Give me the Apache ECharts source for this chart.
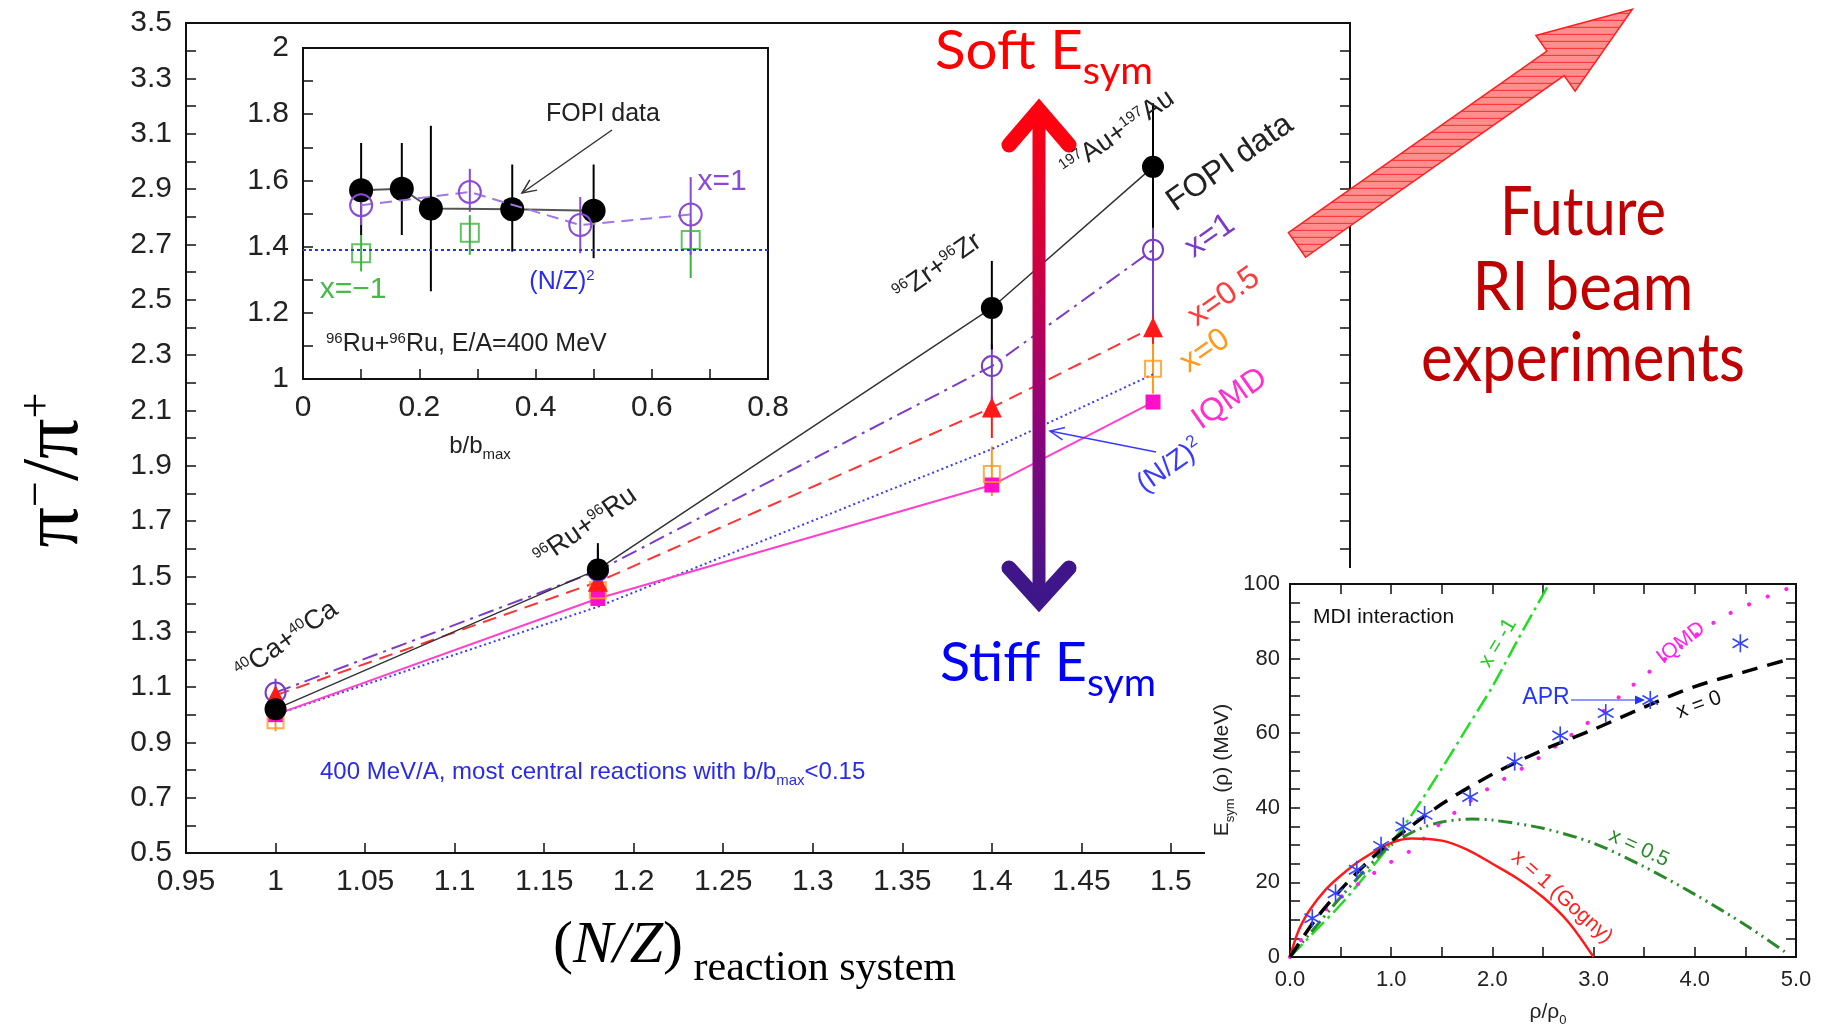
<!DOCTYPE html>
<html>
<head>
<meta charset="utf-8">
<script src="https://cdn.jsdelivr.net/npm/echarts@6/dist/echarts.min.js"></script>
<style>
html,body{margin:0;padding:0;background:#fff;}
#chart{width:1825px;height:1028px;}
</style>
</head>
<body>
<div id="chart"></div>
<script>
// ===== Main panel: pi-/pi+ ratio vs (N/Z) of the reaction system =====
const systemNZ   = [1.0, 1.18, 1.4, 1.49];
const fopiRatio  = [1.02, 1.525, 2.47, 2.98];
const fopiLow    = [0.99, 1.47, 2.32, 2.76];
const fopiHigh   = [1.05, 1.62, 2.64, 3.21];
const x1Ratio    = [1.08, 1.52, 2.26, 2.68];
const x1Low      = [1.04, 1.46, 2.12, 2.44];
const x1High     = [1.13, 1.60, 2.34, 2.87];
const x05Ratio   = [1.07, 1.48, 2.11, 2.40];
const x05Low     = [1.03, 1.43, 2.00, 2.34];
const x05High    = [1.10, 1.53, 2.15, 2.47];
const x0Ratio    = [0.98, 1.45, 1.87, 2.25];
const x0Low      = [0.94, 1.39, 1.79, 2.16];
const x0High     = [1.02, 1.50, 1.97, 2.36];
const iqmdRatio  = [1.00, 1.42, 1.83, 2.13];
const nz2Ratio   = [1.00, 1.39, 1.96, 2.23];
const mainX = {min: 0.95, max: 1.6, step: 0.05};
const mainY = {min: 0.5, max: 3.5, step: 0.2};

// ===== Inset 1: Ru+Ru ratio vs b/bmax =====
const bFopi      = [0.10, 0.17, 0.22, 0.36, 0.50];
const rFopi      = [1.570, 1.575, 1.515, 1.513, 1.508];
const rFopiLow   = [1.435, 1.435, 1.265, 1.385, 1.365];
const rFopiHigh  = [1.713, 1.713, 1.765, 1.648, 1.648];
const bX1        = [0.10, 0.287, 0.477, 0.667];
const rX1        = [1.525, 1.565, 1.465, 1.497];
const rX1Low     = [1.465, 1.505, 1.38, 1.375];
const rX1High    = [1.58, 1.635, 1.55, 1.61];
const bXm1       = [0.10, 0.287, 0.667];
const rXm1       = [1.38, 1.442, 1.42];
const rXm1Low    = [1.325, 1.375, 1.305];
const rXm1High   = [1.435, 1.495, 1.48];
const rNZ2Ru     = 1.39;

// ===== Inset 2: Esym(rho) =====
const rhoGogny  = [0, 0.05, 0.1, 0.2, 0.35, 0.5, 0.7, 1.0, 1.2, 1.5, 1.75, 2.0, 2.25, 2.5, 2.75, 3.0];
const esymGogny = [0, 4.5, 8, 12.8, 18, 21.8, 26, 30.6, 31.8, 31.2, 28.8, 25, 21, 16, 9.4, 0];
const rhoX0     = [0, 0.25, 0.5, 0.75, 1.0, 1.5, 2.0, 2.5, 3.0, 3.5, 4.0, 4.5, 4.95];
const esymX0    = [0, 10, 18, 25, 31, 41, 49, 55.5, 61, 67, 72.5, 76.5, 80];
const rhoX05    = [0, 0.25, 0.5, 0.75, 1.0, 1.25, 1.5, 1.8, 2.0, 2.5, 3.0, 3.5, 4.0, 4.5, 4.9];
const esymX05   = [0, 8, 16, 23.5, 30, 34, 36.2, 37, 36.7, 34.5, 30.5, 24.2, 16.8, 8.6, 1.2];
const rhoXm1    = [0, 0.25, 0.5, 0.75, 1.0, 1.25, 1.5, 1.75, 2.0, 2.25, 2.56];
const esymXm1   = [0, 7, 14, 22, 30.5, 40, 50.5, 61.5, 72.5, 85, 100];
const rhoIQMD   = [0, 0.25, 0.5, 0.75, 1.0, 1.2, 1.45, 1.94, 2.44, 3.1, 3.33, 4.23, 4.92];
const esymIQMD  = [0, 10, 16, 21, 25.5, 28.7, 35, 44.8, 53, 66, 71.6, 90.4, 98.8];
const rhoAPR    = [0.22, 0.45, 0.66, 0.9, 1.12, 1.33, 1.78, 2.22, 2.67, 3.12, 3.56, 4.45];
const esymAPR   = [10.4, 17.1, 23.4, 29.8, 35, 38.1, 42.9, 52.4, 59.4, 65.4, 68.9, 84.1];

const zip = (a, b) => a.map((v, i) => [v, b[i]]);
const zip3 = (a, b, c) => a.map((v, i) => [v, b[i], c[i]]);

const mctx = document.createElement('canvas').getContext('2d');
function rt(cx, cy, parts, o) {
  o = o || {};
  const fam = o.family || 'Liberation Sans';
  const F = parts[0][1];
  const z = o.z || 30;
  let w = 0;
  const ws = parts.map(p => {
    const st = (p[3] && p[3].fontStyle) || o.fontStyle || 'normal';
    mctx.font = st + ' ' + (o.fontWeight || 'normal') + ' ' + p[1] + 'px "' + fam + '"';
    const ww = mctx.measureText(p[0]).width; w += ww; return ww;
  });
  let x0 = o.align === 'left' ? 0 : (o.align === 'right' ? -w : -w / 2);
  const children = parts.map((p, i) => {
    const el = {type: 'text', x: x0, y: p[2] + 0.35 * (F - p[1]), z: z, silent: true,
      style: {text: p[0], fontSize: p[1], fontFamily: fam,
        fontStyle: (p[3] && p[3].fontStyle) || o.fontStyle || 'normal',
        fontWeight: o.fontWeight || 'normal',
        fill: (p[3] && p[3].fill) || o.fill || '#000', align: 'left', verticalAlign: 'middle'}};
    x0 += ws[i]; return el;
  });
  const sx = o.fitWidth ? o.fitWidth / w : 1;
  return {type: 'group', x: cx, y: cy, rotation: o.rot || 0, scaleX: sx, z: z, silent: true, children: children};
}
function arrow(x1, y1, x2, y2, color, w, hl, filled) {
  const a = Math.atan2(y2 - y1, x2 - x1);
  const hw = hl * 0.45;
  const bx = x2 - hl * Math.cos(a), by = y2 - hl * Math.sin(a);
  const p1 = [bx - hw * Math.sin(a), by + hw * Math.cos(a)], p2 = [bx + hw * Math.sin(a), by - hw * Math.cos(a)];
  const els = [{type: 'line', z: 30, silent: true, shape: {x1: x1, y1: y1, x2: filled ? bx : x2, y2: filled ? by : y2}, style: {stroke: color, lineWidth: w}}];
  if (filled) els.push({type: 'polygon', z: 30, silent: true, shape: {points: [[x2, y2], p1, p2]}, style: {fill: color}});
  else els.push({type: 'polyline', z: 30, silent: true, shape: {points: [p1, [x2, y2], p2]}, style: {stroke: color, lineWidth: w, fill: null}});
  return els;
}
function errBar(color, width) {
  return function (params, api) {
    const x = api.value(0), lo = api.value(1), hi = api.value(2);
    const a = api.coord([x, lo]), b = api.coord([x, hi]);
    return {type: 'line', shape: {x1: a[0], y1: a[1], x2: b[0], y2: b[1]}, style: {stroke: color, lineWidth: width}};
  };
}
function asteriskItem(params, api) {
  const p = api.coord([api.value(0), api.value(1)]);
  const r = 9; const ch = [];
  for (let k = 0; k < 3; k++) {
    const ang = Math.PI / 2 + k * Math.PI / 3;
    ch.push({type: 'line', shape: {x1: p[0] - r * Math.cos(ang), y1: p[1] - r * Math.sin(ang), x2: p[0] + r * Math.cos(ang), y2: p[1] + r * Math.sin(ang)}, style: {stroke: '#3344ff', lineWidth: 1.6}});
  }
  return {type: 'group', children: ch};
}

const TXT = '#222';
const FAM = 'Liberation Sans';
function tickAxis(extra) {
  return Object.assign({
    type: 'value', splitLine: {show: false},
    axisLine: {show: true, onZero: false, lineStyle: {color: '#111', width: 2}},
    axisTick: {show: true, inside: true, length: 10, lineStyle: {color: '#111', width: 1.5}},
    minorTick: {show: true, splitNumber: 2, length: 10, lineStyle: {color: '#111', width: 1.5}},
    axisLabel: {show: true, color: TXT, fontFamily: FAM, fontSize: 30, margin: 14}
  }, extra);
}

// hatch pattern for the big arrow
const pc = document.createElement('canvas'); pc.width = 12; pc.height = 7;
const pg = pc.getContext('2d');
pg.fillStyle = '#ff8f8f'; pg.fillRect(0, 0, 12, 7);
pg.strokeStyle = '#ff3a3a'; pg.lineWidth = 1.2; pg.beginPath(); pg.moveTo(0, 6.4); pg.lineTo(12, 6.4); pg.stroke();

const PURPLE = '#7a3cc8', RED = '#ff1a1a', ORANGE = '#ff9a1a', MAGENTA = '#ff10c8', BLUE = '#3a3aff';
const IPURPLE = '#8a4ad8', IGREEN = '#3cb43c';

const graphics = [];
// white backdrop of the lower right inset
graphics.push({type: 'rect', z: 5, silent: true, shape: {x: 1205, y: 568, width: 620, height: 460}, style: {fill: '#fff'}});
// axis titles of main panel
graphics.push(rt(56, 470, [['π', 80, 0], ['−', 46, -30], ['/π', 80, 0], ['+', 46, -30]], {family: 'Liberation Serif', rot: Math.PI / 2, fill: '#000'}));
graphics.push(rt(553, 946, [['(', 60, 0], ['N/Z', 60, 0, {fontStyle: 'italic'}], [')', 60, 0], [' reaction system', 42, 17]], {family: 'Liberation Serif', align: 'left', fill: '#000'}));
// main panel annotations
const R = 0.61;
graphics.push(rt(289, 644, [['40', 15, -10], ['Ca+', 27, 0], ['40', 15, -10], ['Ca', 27, 0]], {rot: R, fill: TXT}));
graphics.push(rt(588, 530, [['96', 15, -10], ['Ru+', 27, 0], ['96', 15, -10], ['Ru', 27, 0]], {rot: R, fill: TXT}));
graphics.push(rt(940, 271, [['96', 15, -10], ['Zr+', 27, 0], ['96', 15, -10], ['Zr', 27, 0]], {rot: R, fill: TXT}));
graphics.push(rt(1120, 137, [['197', 15, -10], ['Au+', 27, 0], ['197', 15, -10], ['Au', 27, 0]], {rot: R, fill: TXT}));
graphics.push(rt(1230, 163, [['FOPI data', 32, 0]], {rot: R, fill: TXT}));
graphics.push(rt(1210, 236, [['x=1', 32, 0]], {rot: R, fill: PURPLE}));
graphics.push(rt(1224, 297, [['x=0.5', 32, 0]], {rot: R, fill: '#ff3b3b'}));
graphics.push(rt(1205, 351, [['x=0', 32, 0]], {rot: R, fill: ORANGE}));
graphics.push(rt(1230, 399, [['IQMD', 32, 0]], {rot: R, fill: '#ff30d0'}));
graphics.push(rt(1170, 466, [['(N/Z)', 28, 0], ['2', 17, -11]], {rot: R, fill: BLUE}));
graphics.push.apply(graphics, arrow(1156, 452, 1050, 431, BLUE, 1.5, 14, false));
graphics.push(rt(320, 772, [['400 MeV/A, most central reactions with b/b', 24, 0], ['max', 15, 6], ['<0.15', 24, 0]], {align: 'left', fill: '#2a2aee'}));
// inset 1 annotations
graphics.push(rt(480, 446, [['b/b', 24, 0], ['max', 15, 6]], {fill: TXT}));
graphics.push(rt(603, 114, [['FOPI data', 25, 0]], {fill: TXT}));
graphics.push.apply(graphics, arrow(612, 130, 522, 193, '#333', 1.5, 14, false));
graphics.push(rt(326, 348, [['96', 15, -9], ['Ru+', 25, 0], ['96', 15, -9], ['Ru, E/A=400 MeV', 25, 0]], {align: 'left', fill: TXT}));
graphics.push(rt(722, 182, [['x=1', 30, 0]], {fill: IPURPLE}));
graphics.push(rt(353, 290, [['x=−1', 30, 0]], {fill: '#44bb44'}));
graphics.push(rt(562, 282, [['(N/Z)', 25, 0], ['2', 15, -10]], {fill: '#2a2aee'}));
// inset 2 annotations
graphics.push(rt(1313, 617, [['MDI interaction', 21, 0]], {align: 'left', fill: '#111', z: 12}));
graphics.push(rt(1498, 643, [['x = -1', 21, 0]], {rot: 1.03, fill: '#22cc22', z: 12}));
graphics.push(rt(1681, 643, [['IQMD', 21, 0]], {rot: 0.66, fill: '#ff22ee', z: 12}));
graphics.push(rt(1546, 698, [['APR', 23, 0]], {fill: '#2233ff', z: 12}));
graphics.push.apply(graphics, arrow(1571, 700, 1645, 700, '#2233ff', 1.2, 10, true).map(e => Object.assign(e, {z: 12})));
graphics.push(rt(1699, 705, [['x = 0', 21, 0]], {rot: 0.35, fill: '#111', z: 12}));
graphics.push(rt(1639, 848, [['x = 0.5', 21, 0]], {rot: -0.44, fill: '#2a8a2a', z: 12}));
graphics.push(rt(1562, 897, [['x = 1 (Gogny)', 21, 0]], {rot: -0.73, fill: '#ff2020', z: 12}));
graphics.push(rt(1222, 770, [['E', 21, 0], ['sym', 13, 6], [' (ρ) (MeV)', 21, 0]], {rot: Math.PI / 2, fill: TXT, z: 12}));
graphics.push(rt(1548, 1012, [['ρ/ρ', 21, 0], ['0', 13, 6]], {fill: TXT, z: 12}));
// double arrow (soft / stiff)
graphics.push({type: 'rect', z: 25, silent: true, shape: {x: 1032.5, y: 112, width: 13, height: 488},
  style: {fill: {type: 'linear', x: 0, y: 0, x2: 0, y2: 1, colorStops: [
    {offset: 0, color: '#ff0010'}, {offset: 0.3, color: '#d0003e'}, {offset: 0.6, color: '#980078'}, {offset: 1, color: '#3e168a'}]}}});
graphics.push({type: 'polyline', z: 25, silent: true, shape: {points: [[1009, 145], [1039, 110], [1069, 145]]}, style: {stroke: '#ff0010', lineWidth: 15, lineCap: 'round', lineJoin: 'miter', fill: null}});
graphics.push({type: 'polyline', z: 25, silent: true, shape: {points: [[1009, 568], [1039, 601], [1069, 568]]}, style: {stroke: '#3e168a', lineWidth: 15, lineCap: 'round', lineJoin: 'miter', fill: null}});
graphics.push(rt(935, 52, [['Soft E', 54, 0], ['sym', 38, 14]], {family: 'Lato', align: 'left', fill: '#ff0000', fitWidth: 218}));
graphics.push(rt(940, 664, [['Stiff E', 54, 0], ['sym', 38, 14]], {family: 'Lato', align: 'left', fill: '#0000ff', fitWidth: 216}));
// hatched arrow
graphics.push({type: 'polygon', z: 26, silent: true, shape: {points: [[1288.4, 232.7], [1546.9, 51.0], [1535.9, 35.5], [1632.4, 9.2], [1575.1, 91.1], [1564.1, 75.6], [1305.6, 257.3]]},
  style: {fill: {image: pc, repeat: 'repeat'}, stroke: '#ff2020', lineWidth: 1.5}});
graphics.push(rt(1583, 213, [['Future', 67, 0]], {family: 'Lato', fill: '#c00000', fitWidth: 166}));
graphics.push(rt(1583, 288, [['RI beam', 67, 0]], {family: 'Lato', fill: '#c00000', fitWidth: 221}));
graphics.push(rt(1583, 359, [['experiments', 67, 0]], {family: 'Lato', fill: '#c00000', fitWidth: 324}));

const hollow = (c) => ({color: 'rgba(0,0,0,0)', borderColor: c, borderWidth: 2});

const option = {
  animation: false,
  backgroundColor: '#fff',
  grid: [
    {left: 186, top: 23, width: 1164, height: 830, show: true, borderColor: '#111', borderWidth: 2, backgroundColor: 'rgba(0,0,0,0)', z: 0},
    {left: 303, top: 48, width: 465, height: 331, show: true, borderColor: '#111', borderWidth: 2, backgroundColor: '#fff', z: 0},
    {left: 1290, top: 584, width: 506, height: 373, show: true, borderColor: '#111', borderWidth: 2, backgroundColor: '#fff', z: 6}
  ],
  xAxis: [
    tickAxis({gridIndex: 0, min: mainX.min, max: mainX.max, interval: mainX.step, minorTick: {show: false}, z: 1}),
    tickAxis({gridIndex: 1, min: 0, max: 0.8, interval: 0.2, z: 1}),
    tickAxis({gridIndex: 2, min: 0, max: 5, interval: 1, z: 7, axisLabel: {color: TXT, fontFamily: FAM, fontSize: 22, margin: 12, formatter: v => v.toFixed(1)}}),
    tickAxis({gridIndex: 2, position: 'top', min: 0, max: 5, interval: 1, z: 7, axisLabel: {show: false}})
  ],
  yAxis: [
    tickAxis({gridIndex: 0, min: mainY.min, max: mainY.max, interval: mainY.step, z: 1}),
    tickAxis({gridIndex: 0, position: 'right', min: mainY.min, max: mainY.max, interval: mainY.step, z: 1, axisLabel: {show: false}}),
    tickAxis({gridIndex: 1, min: 1, max: 2, interval: 0.2, z: 1}),
    tickAxis({gridIndex: 2, min: 0, max: 100, interval: 20, z: 7, minorTick: {show: true, splitNumber: 4, length: 10, lineStyle: {color: '#111', width: 1.5}}, axisLabel: {color: TXT, fontFamily: FAM, fontSize: 22, margin: 10}}),
    tickAxis({gridIndex: 2, position: 'right', min: 0, max: 100, interval: 20, z: 7, minorTick: {show: true, splitNumber: 4, length: 10, lineStyle: {color: '#111', width: 1.5}}, axisLabel: {show: false}})
  ],
  graphic: {elements: graphics},
  series: [
    // ---- main panel ----
    {type: 'line', xAxisIndex: 0, yAxisIndex: 0, data: zip(systemNZ, nz2Ratio), symbol: 'none', lineStyle: {color: BLUE, width: 2, type: [2, 3]}, z: 2},
    {type: 'custom', xAxisIndex: 0, yAxisIndex: 0, renderItem: errBar(ORANGE, 2), data: zip3(systemNZ, x0Low, x0High), encode: {x: 0, y: [1, 2]}, z: 2, silent: true},
    {type: 'custom', xAxisIndex: 0, yAxisIndex: 0, renderItem: errBar(RED, 2), data: zip3(systemNZ, x05Low, x05High), encode: {x: 0, y: [1, 2]}, z: 2, silent: true},
    {type: 'custom', xAxisIndex: 0, yAxisIndex: 0, renderItem: errBar(PURPLE, 2), data: zip3(systemNZ, x1Low, x1High), encode: {x: 0, y: [1, 2]}, z: 2, silent: true},
    {type: 'custom', xAxisIndex: 0, yAxisIndex: 0, renderItem: errBar('#000', 2), data: zip3(systemNZ, fopiLow, fopiHigh), encode: {x: 0, y: [1, 2]}, z: 2, silent: true},
    {type: 'line', xAxisIndex: 0, yAxisIndex: 0, data: zip(systemNZ, iqmdRatio), symbol: 'rect', symbolSize: 15, itemStyle: {color: MAGENTA}, lineStyle: {color: '#ff40cc', width: 2}, z: 3},
    {type: 'scatter', xAxisIndex: 0, yAxisIndex: 0, data: zip(systemNZ, x0Ratio), symbol: 'rect', symbolSize: 16, itemStyle: hollow(ORANGE), z: 3},
    {type: 'line', xAxisIndex: 0, yAxisIndex: 0, data: zip(systemNZ, x05Ratio), symbol: 'triangle', symbolSize: 20, itemStyle: {color: RED}, lineStyle: {color: '#ff3333', width: 2, type: [14, 8]}, z: 3},
    {type: 'line', xAxisIndex: 0, yAxisIndex: 0, data: zip(systemNZ, x1Ratio), symbol: 'circle', symbolSize: 20, itemStyle: hollow(PURPLE), lineStyle: {color: PURPLE, width: 2, type: [16, 6, 3, 6]}, z: 3},
    {type: 'line', xAxisIndex: 0, yAxisIndex: 0, data: zip(systemNZ, fopiRatio), symbol: 'circle', symbolSize: 22, itemStyle: {color: '#000'}, lineStyle: {color: '#333', width: 1.5}, z: 4},
    // ---- inset 1 ----
    {type: 'custom', xAxisIndex: 1, yAxisIndex: 2, renderItem: errBar(IGREEN, 2), data: zip3(bXm1, rXm1Low, rXm1High), encode: {x: 0, y: [1, 2]}, z: 3, silent: true},
    {type: 'custom', xAxisIndex: 1, yAxisIndex: 2, renderItem: errBar('#000', 2), data: zip3(bFopi, rFopiLow, rFopiHigh), encode: {x: 0, y: [1, 2]}, z: 3, silent: true},
    {type: 'custom', xAxisIndex: 1, yAxisIndex: 2, renderItem: errBar(IPURPLE, 2), data: zip3(bX1, rX1Low, rX1High), encode: {x: 0, y: [1, 2]}, z: 3, silent: true},
    {type: 'scatter', xAxisIndex: 1, yAxisIndex: 2, data: zip(bXm1, rXm1), symbol: 'rect', symbolSize: 18, itemStyle: hollow(IGREEN), z: 4,
      markLine: {symbol: 'none', silent: true, label: {show: false}, lineStyle: {color: '#2233ff', type: [3, 3], width: 2}, data: [{yAxis: rNZ2Ru}]}},
    {type: 'line', xAxisIndex: 1, yAxisIndex: 2, data: zip(bFopi, rFopi), symbol: 'circle', symbolSize: 24, itemStyle: {color: '#000'}, lineStyle: {color: '#555', width: 2}, z: 4},
    {type: 'line', xAxisIndex: 1, yAxisIndex: 2, data: zip(bX1, rX1), symbol: 'circle', symbolSize: 22, itemStyle: hollow(IPURPLE), lineStyle: {color: '#a078e0', width: 2, type: [12, 7]}, z: 5},
    // ---- inset 2 ----
    {type: 'line', xAxisIndex: 2, yAxisIndex: 3, data: zip(rhoXm1, esymXm1), symbol: 'none', smooth: 0.3, lineStyle: {color: '#22dd22', width: 2.5, type: [18, 5, 3, 5]}, z: 8},
    {type: 'line', xAxisIndex: 2, yAxisIndex: 3, data: zip(rhoX05, esymX05), symbol: 'none', smooth: 0.3, lineStyle: {color: '#2a8a2a', width: 3, type: [14, 5, 2, 5, 2, 5]}, z: 8},
    {type: 'line', xAxisIndex: 2, yAxisIndex: 3, data: zip(rhoIQMD, esymIQMD), symbol: 'none', smooth: 0.3, lineStyle: {color: '#ff22ee', width: 4, type: [0.1, 20], cap: 'round'}, z: 8},
    {type: 'line', xAxisIndex: 2, yAxisIndex: 3, data: zip(rhoGogny, esymGogny), symbol: 'none', smooth: 0.3, lineStyle: {color: '#ff1a1a', width: 2.5}, z: 8},
    {type: 'line', xAxisIndex: 2, yAxisIndex: 3, data: zip(rhoX0, esymX0), symbol: 'none', smooth: 0.3, lineStyle: {color: '#000', width: 3.5, type: [16, 10]}, z: 8},
    {type: 'custom', xAxisIndex: 2, yAxisIndex: 3, renderItem: asteriskItem, data: zip(rhoAPR, esymAPR), encode: {x: 0, y: 1}, z: 9, silent: true}
  ]
};
const chart = echarts.init(document.getElementById('chart'), null, {renderer: 'canvas'});
chart.setOption(option);
</script>
</body>
</html>
